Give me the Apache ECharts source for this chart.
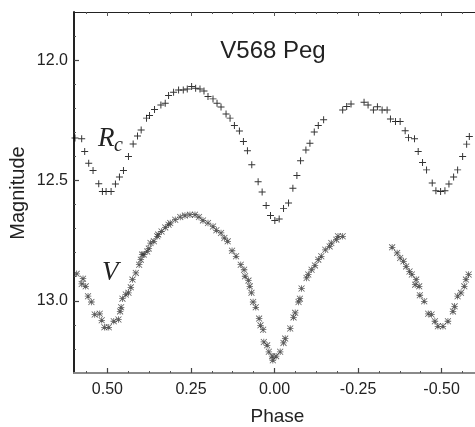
<!DOCTYPE html>
<html>
<head>
<meta charset="utf-8">
<script src="https://cdn.jsdelivr.net/npm/echarts@6/dist/echarts.min.js"></script>
<style>
html,body{margin:0;padding:0;background:#fff;}
#chart{width:475px;height:427px;}
</style>
</head>
<body>
<div id="chart"></div>
<script>
// ---- data ----
const rcPhase = [0.597,0.577,0.568,0.556,0.543,0.526,0.515,0.504,0.489,0.476,0.464,0.452,0.437,0.423,0.410,0.399,0.383,0.374,0.359,0.340,0.327,0.317,0.302,0.287,0.273,0.261,0.248,0.236,0.223,0.211,0.199,0.184,0.172,0.160,0.145,0.133,0.120,0.105,0.093,0.081,0.068,0.049,0.037,0.025,0.012,-0.001,-0.014,-0.027,-0.042,-0.055,-0.067,-0.078,-0.094,-0.106,-0.119,-0.131,-0.147,-0.204,-0.216,-0.229,-0.268,-0.280,-0.296,-0.308,-0.322,-0.337,-0.347,-0.362,-0.376,-0.391,-0.401,-0.419,-0.430,-0.443,-0.455,-0.472,-0.483,-0.497,-0.510,-0.522,-0.536,-0.548,-0.563,-0.575,-0.583];
const rcMag = [12.324,12.327,12.380,12.428,12.459,12.514,12.546,12.546,12.546,12.515,12.486,12.459,12.400,12.348,12.315,12.290,12.241,12.230,12.205,12.186,12.179,12.147,12.133,12.124,12.124,12.120,12.110,12.117,12.120,12.128,12.151,12.161,12.179,12.195,12.224,12.241,12.272,12.294,12.338,12.377,12.435,12.505,12.548,12.604,12.646,12.666,12.660,12.617,12.594,12.532,12.479,12.418,12.373,12.345,12.299,12.272,12.248,12.207,12.193,12.182,12.175,12.186,12.207,12.194,12.207,12.207,12.245,12.255,12.255,12.293,12.322,12.327,12.380,12.425,12.456,12.511,12.543,12.546,12.543,12.515,12.486,12.456,12.400,12.349,12.317];

const vPhase = [0.592,0.577,0.573,0.565,0.558,0.548,0.538,0.523,0.517,0.509,0.496,0.481,0.467,0.462,0.459,0.455,0.445,0.437,0.430,0.425,0.415,0.405,0.400,0.396,0.391,0.381,0.376,0.371,0.361,0.351,0.348,0.338,0.327,0.317,0.312,0.297,0.282,0.268,0.253,0.238,0.226,0.214,0.199,0.184,0.174,0.160,0.150,0.140,0.127,0.115,0.101,0.091,0.088,0.078,0.074,0.069,0.064,0.056,0.046,0.042,0.034,0.032,0.022,0.017,0.007,0.005,-0.005,-0.017,-0.027,-0.032,-0.047,-0.057,-0.062,-0.072,-0.076,-0.081,-0.096,-0.101,-0.111,-0.121,-0.131,-0.140,-0.152,-0.165,-0.170,-0.185,-0.190,-0.204,-0.352,-0.367,-0.376,-0.386,-0.394,-0.404,-0.411,-0.424,-0.421,-0.433,-0.435,-0.448,-0.460,-0.470,-0.480,-0.489,-0.504,-0.519,-0.534,-0.539,-0.548,-0.558,-0.568,-0.573,-0.581];
const vMag = [12.888,12.930,12.908,12.940,12.981,13.005,13.057,13.054,13.081,13.110,13.110,13.085,13.078,13.044,13.027,12.991,12.974,12.967,12.944,12.912,12.884,12.850,12.829,12.808,12.808,12.795,12.783,12.760,12.753,12.732,12.725,12.712,12.695,12.684,12.677,12.663,12.652,12.646,12.642,12.642,12.652,12.666,12.677,12.691,12.707,12.718,12.739,12.753,12.792,12.815,12.850,12.871,12.898,12.916,12.940,12.967,13.005,13.027,13.074,13.102,13.120,13.171,13.185,13.212,13.230,13.247,13.230,13.212,13.175,13.157,13.115,13.069,13.050,13.005,12.991,12.949,12.905,12.891,12.871,12.853,12.829,12.815,12.788,12.774,12.760,12.746,12.732,12.732,12.778,12.801,12.822,12.836,12.857,12.878,12.891,12.912,12.933,12.940,12.977,13.002,13.054,13.057,13.085,13.106,13.106,13.085,13.044,13.023,12.981,12.967,12.940,12.912,12.891];

const phaseTicks = [0.5, 0.25, 0, -0.25, -0.5];
const phaseMinorTicks = [0.5625,0.4375,0.375,0.3125,0.1875,0.125,0.0625,-0.0625,-0.125,-0.1875,-0.3125,-0.375,-0.4375,-0.5625];
const magTicks = [12.0, 12.5, 13.0];
const magMinorTicks = [11.9,12.1,12.2,12.3,12.4,12.6,12.7,12.8,12.9,13.1,13.2];

const titleText = 'V568 Peg';
const xName = 'Phase';
const yName = 'Magnitude';

// ---- chart ----
const chart = echarts.init(document.getElementById('chart'), null, {renderer: 'canvas'});
const plusPath = 'path://M4.3 0h1.4v4.3H10v1.4H5.7V10H4.3V5.7H0V4.3h4.3z';
const starPath = 'path://M4.4 0h1.2v4.4H10v1.2H5.6V10H4.4V5.6H0V4.4h4.4zM0.85 0L10 9.15L9.15 10L0 0.85zM9.15 0L10 0.85L0.85 10L0 9.15z';

const xBase = {type:'value', min:-0.6, max:0.6, inverse:true, splitLine:{show:false}, gridIndex:0};
const yBase = {type:'value', min:11.8, max:13.3, inverse:true, splitLine:{show:false}, gridIndex:0};
const labelFont = 'Liberation Sans, Arial, sans-serif';

chart.setOption({
  animation: false,
  backgroundColor: '#fff',
  grid: {left: 74, top: 12, right: -5, bottom: 54, containLabel: false},
  xAxis: [
    Object.assign({}, xBase, {
      position:'bottom',
      axisLine:{show:true, onZero:false, lineStyle:{color:'#8a8a8a', width:2}},
      axisTick:{show:true, inside:true, length:5, customValues: phaseTicks, lineStyle:{color:'#444', width:1.2}},
      axisLabel:{show:true, customValues: phaseTicks, margin:9, color:'#222', fontSize:16, fontFamily:labelFont,
        formatter: v => (Math.abs(v) < 1e-9 ? 0 : v).toFixed(2)}
    }),
    Object.assign({}, xBase, {
      position:'bottom',
      axisLine:{show:false, onZero:false},
      axisTick:{show:true, inside:true, length:2, customValues: phaseMinorTicks, lineStyle:{color:'#555', width:1}},
      axisLabel:{show:false}
    }),
    Object.assign({}, xBase, {
      position:'top',
      axisLine:{show:true, onZero:false, lineStyle:{color:'#222', width:1.2}},
      axisTick:{show:true, inside:true, length:4, customValues: phaseTicks, lineStyle:{color:'#555', width:1}},
      axisLabel:{show:false}
    }),
    Object.assign({}, xBase, {
      position:'top',
      axisLine:{show:false, onZero:false},
      axisTick:{show:true, inside:true, length:2, customValues: phaseMinorTicks, lineStyle:{color:'#555', width:1}},
      axisLabel:{show:false}
    })
  ],
  yAxis: [
    Object.assign({}, yBase, {
      position:'left',
      axisLine:{show:true, onZero:false, lineStyle:{color:'#222', width:2}},
      axisTick:{show:true, inside:true, length:5, customValues: magTicks, lineStyle:{color:'#444', width:1.2}},
      axisLabel:{show:true, customValues: magTicks, margin:6, color:'#222', fontSize:16, fontFamily:labelFont,
        formatter: v => v.toFixed(1)}
    }),
    Object.assign({}, yBase, {
      position:'left',
      axisLine:{show:false, onZero:false},
      axisTick:{show:true, inside:true, length:2, customValues: magMinorTicks, lineStyle:{color:'#555', width:1}},
      axisLabel:{show:false}
    })
  ],
  series: [
    {
      type:'scatter', name:'Rc', xAxisIndex:0, yAxisIndex:0,
      data: rcPhase.map((p,i) => [p, rcMag[i]]),
      symbol: plusPath, symbolSize: 7,
      itemStyle:{color:'#000'}, silent:true
    },
    {
      type:'scatter', name:'V', xAxisIndex:0, yAxisIndex:0,
      data: vPhase.map((p,i) => [p, vMag[i]]),
      symbol: starPath, symbolSize: 6.5,
      itemStyle:{color:'#333'}, silent:true
    }
  ],
  graphic: [
    {type:'text', x:273, y:51.5, style:{text:titleText, font:'24px "Liberation Sans", Arial, sans-serif', fill:'#222', align:'center', verticalAlign:'middle', textAlign:'center', textVerticalAlign:'middle'}},
    {type:'text', x:277.5, y:417, style:{text:xName, font:'19px "Liberation Sans", Arial, sans-serif', fill:'#222', align:'center', verticalAlign:'middle', textAlign:'center', textVerticalAlign:'middle'}},
    {type:'text', x:18.5, y:193, rotation:Math.PI/2, style:{text:yName, font:'20px "Liberation Sans", Arial, sans-serif', fill:'#222', align:'center', verticalAlign:'middle', textAlign:'center', textVerticalAlign:'middle'}},
    {type:'text', x:98, y:139.3, style:{text:'R', font:'italic 27px "Liberation Serif", "Times New Roman", serif', fill:'#222', align:'left', verticalAlign:'middle', textAlign:'left', textVerticalAlign:'middle'}},
    {type:'text', x:114, y:146, style:{text:'c', font:'italic 20px "Liberation Serif", "Times New Roman", serif', fill:'#222', align:'left', verticalAlign:'middle', textAlign:'left', textVerticalAlign:'middle'}},
    {type:'text', x:102, y:272.8, style:{text:'V', font:'italic 27px "Liberation Serif", "Times New Roman", serif', fill:'#222', align:'left', verticalAlign:'middle', textAlign:'left', textVerticalAlign:'middle'}}
  ]
});
</script>
</body>
</html>
